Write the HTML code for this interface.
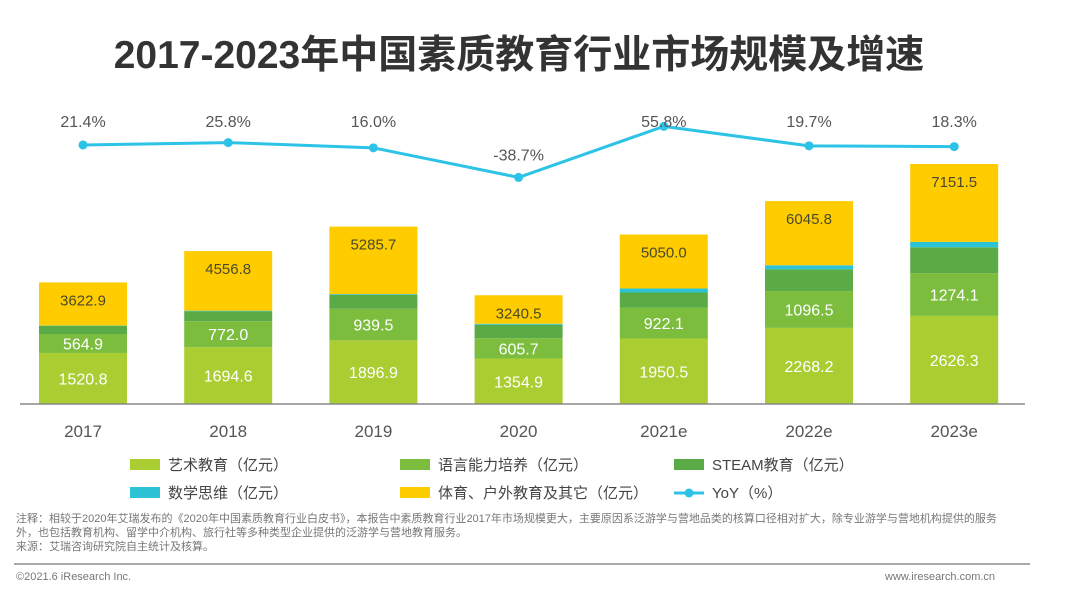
<!DOCTYPE html>
<html><head><meta charset="utf-8">
<style>
body{margin:0;background:#fff;font-family:"Liberation Sans","Noto Sans CJK SC",sans-serif;}
#wrap{position:relative;width:1080px;height:594px;overflow:hidden;}
.title{position:absolute;left:0;width:1038px;top:24px;text-align:center;font-size:39px;font-weight:bold;color:#333;}
.note{position:absolute;left:16px;top:512px;width:985px;font-size:11px;line-height:14px;color:#777;}
.foot{position:absolute;top:571px;font-size:11px;color:#777;}
</style></head><body>
<div id="wrap">
<div class="title">2017-2023年中国素质教育行业市场规模及增速</div>
<svg id="chart" width="1080" height="594" style="position:absolute;left:0;top:0"></svg>
<div class="note">注释：相较于2020年艾瑞发布的《2020年中国素质教育行业白皮书》，本报告中素质教育行业2017年市场规模更大，主要原因系泛游学与营地品类的核算口径相对扩大，除专业游学与营地机构提供的服务外，也包括教育机构、留学中介机构、旅行社等多种类型企业提供的泛游学与营地教育服务。<br>来源：艾瑞咨询研究院自主统计及核算。</div>
<div style="position:absolute;left:14px;top:563px;width:1016px;height:2px;background:#aaa"></div>
<div class="foot" style="left:16px">©2021.6 iResearch Inc.</div>
<div class="foot" style="left:885px">www.iresearch.com.cn</div>
</div>
<script>
const categories=["2017","2018","2019","2020","2021e","2022e","2023e"];
const art=[1520.8,1694.6,1896.9,1354.9,1950.5,2268.2,2626.3];
const lang=[564.9,772.0,939.5,605.7,922.1,1096.5,1274.1];
const steam=[240,300,420,400,450,650,770];
const math=[10,15,20,30,120,120,160];
const totals=[3622.9,4556.8,5285.7,3240.5,5050.0,6045.8,7151.5];
const yoy=[21.4,25.8,16.0,-38.7,55.8,19.7,18.3];
const yoyLabels=["21.4%","25.8%","16.0%","-38.7%","55.8%","19.7%","18.3%"];

const svg=document.getElementById('chart');
const NS='http://www.w3.org/2000/svg';
const base=404, scale=240/7151.5;
const xC=i=>83+i*145.2;
const yV=v=>base-v*scale;
const yL=v=>156.5-v*0.54;
function mk(t,a){const e=document.createElementNS(NS,t);for(const k in a)e.setAttribute(k,a[k]);svg.appendChild(e);return e;}
const colors=["#aacd32","#7cbd3e","#5aab45","#2cc3d6","#ffcc00"];
categories.forEach((c,i)=>{
  const other=totals[i]-art[i]-lang[i]-steam[i]-math[i];
  const segs=[art[i],lang[i],steam[i],math[i],other];
  let cum=0;
  segs.forEach((v,j)=>{
    const r=mk('rect',{x:xC(i)-44,y:yV(cum+v),width:88,height:v*scale,fill:colors[j]});
    
    
    cum+=v;
  });
  const t1=mk('text',{x:xC(i),y:(yV(art[i])+base)/2+6,'text-anchor':'middle','font-size':16,fill:'#fff'});t1.textContent=art[i].toFixed(1);
  
  
  const t2=mk('text',{x:xC(i),y:(yV(art[i])+yV(art[i]+lang[i]))/2+6,'text-anchor':'middle','font-size':16,fill:'#fff'});t2.textContent=lang[i].toFixed(1);
  
  
  const t3=mk('text',{x:xC(i),y:yV(totals[i])+23,'text-anchor':'middle','font-size':15,fill:'#4a4a2a'});t3.textContent=totals[i].toFixed(1);
  
  
  const t4=mk('text',{x:xC(i),y:437,'text-anchor':'middle','font-size':17,fill:'#555'});t4.textContent=c;
  
  
});
const ax=mk('line',{x1:20,y1:base,x2:1025,y2:base,stroke:'#888','stroke-width':1.5});


const pl=mk('polyline',{points:yoy.map((v,i)=>xC(i)+','+yL(v)).join(' '),fill:'none',stroke:'#2cc3e6','stroke-width':3});


yoy.forEach((v,i)=>{
  const p=mk('circle',{cx:xC(i),cy:yL(v),r:4.5,fill:'#2cc3e6'});
  
  
  const t=mk('text',{x:xC(i),y:v<0?yL(v)-17:127,'text-anchor':'middle','font-size':16,fill:'#555'});t.textContent=yoyLabels[i];
  
  
});
const legend=[["艺术教育（亿元）",130,465,0],["语言能力培养（亿元）",400,465,1],["STEAM教育（亿元）",674,465,2],["数学思维（亿元）",130,493,3],["体育、户外教育及其它（亿元）",400,493,4]];
legend.forEach(l=>{
  const r=mk('rect',{x:l[1],y:l[2]-6,width:30,height:11,fill:colors[l[3]]});
  
  
  const t=mk('text',{x:l[1]+38,y:l[2]+5,'font-size':15,fill:'#444'});t.textContent=l[0];
  
  
});
const ll=mk('line',{x1:674,y1:493,x2:704,y2:493,stroke:'#2cc3e6','stroke-width':3});


const lc=mk('circle',{cx:689,cy:493,r:4.5,fill:'#2cc3e6'});


const lt=mk('text',{x:712,y:498,'font-size':15,fill:'#444'});lt.textContent='YoY（%）';


</script>
</body></html>
